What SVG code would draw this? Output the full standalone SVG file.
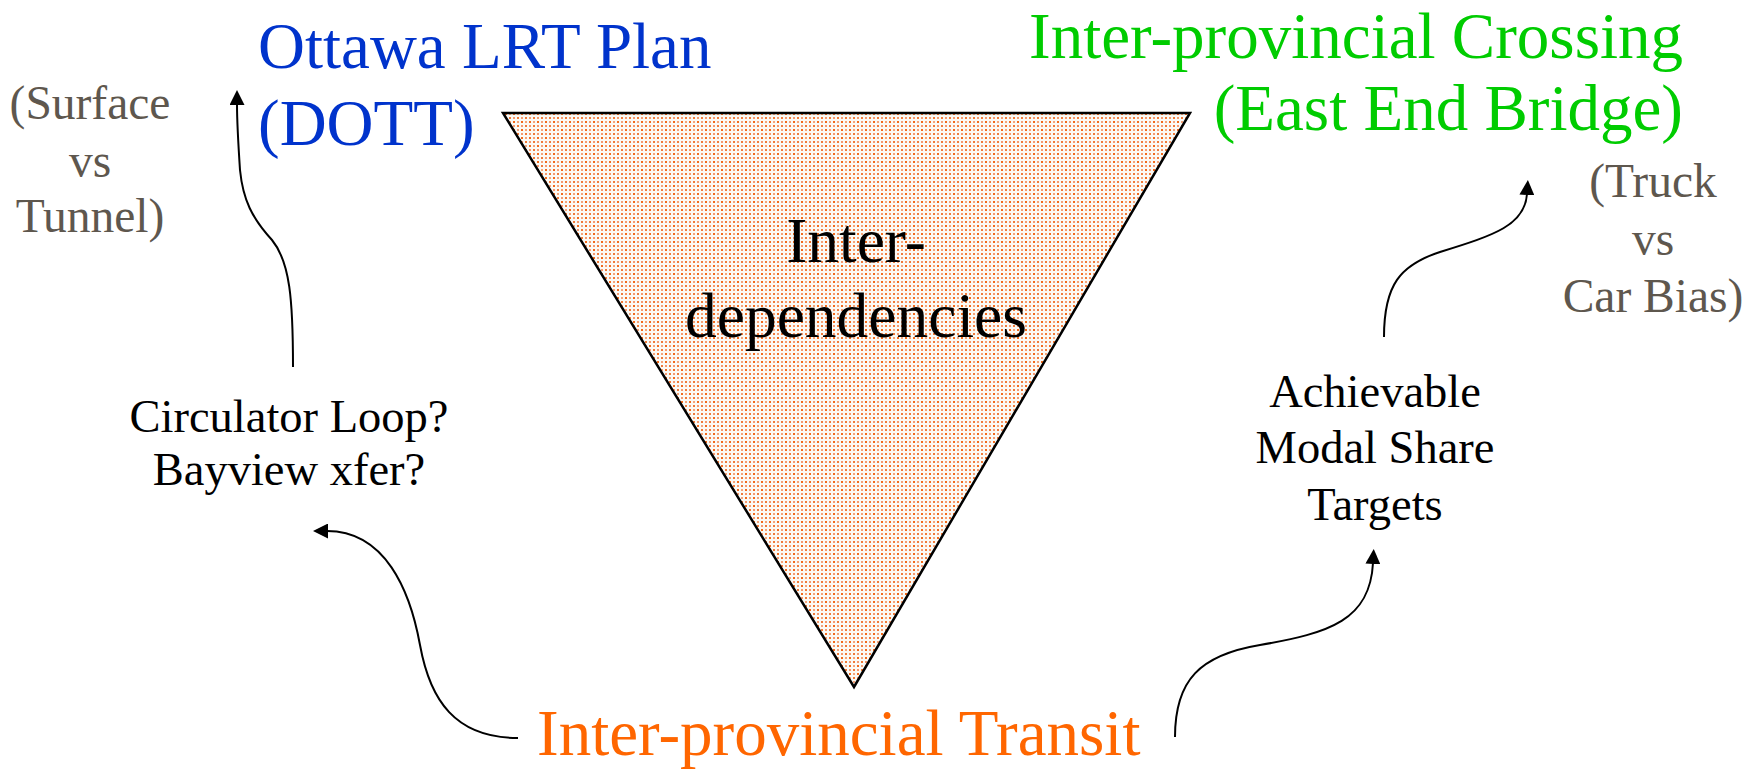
<svg xmlns="http://www.w3.org/2000/svg" width="1761" height="770" viewBox="0 0 1761 770" font-family="'Liberation Serif', 'Times New Roman', serif">
<style>
text{font-family:'Liberation Serif','Times New Roman',serif}
.title{font-size:65px}
.mid{font-size:46.5px;fill:#000;text-anchor:middle}
.note{font-size:47.5px;fill:#5e574e;text-anchor:middle}
.conn{fill:none;stroke:#000;stroke-width:2}
</style>
<defs>
<pattern id="dots" width="8" height="8" patternUnits="userSpaceOnUse">
<rect width="8" height="8" fill="#fcfaf5"/>
<rect x="1" y="1" width="2" height="2" fill="#f26a1b"/>
<rect x="5" y="1" width="2" height="2" fill="#f4a47a"/>
<rect x="1" y="5" width="2" height="2" fill="#f59a70"/>
<rect x="5" y="5" width="2" height="2" fill="#f07a38"/>
</pattern>
<marker id="ah" markerWidth="15" markerHeight="15" refX="1" refY="7.5" orient="auto" markerUnits="userSpaceOnUse" viewBox="0 0 15 15">
<path d="M0,0 L15,7.5 L0,15 z" fill="#000"/>
</marker>
</defs>
<rect width="1761" height="770" fill="#fff"/>
<g id="triangle">
<polygon points="503,113 1190,113 854,687" fill="url(#dots)" stroke="#000" stroke-width="2.5"/>
<text x="856" y="262" font-size="63.5" text-anchor="middle" fill="#000">Inter-</text>
<text x="856" y="337" font-size="63.5" text-anchor="middle" fill="#000">dependencies</text>
</g>
<g id="ottawa-lrt">
<text class="title" x="258" y="68" fill="#0033cc">Ottawa LRT Plan</text>
<text class="title" x="258" y="145" fill="#0033cc">(DOTT)</text>
</g>
<g id="crossing">
<text class="title" x="1683" y="58" fill="#00cc00" text-anchor="end">Inter-provincial Crossing</text>
<text class="title" x="1683" y="130" fill="#00cc00" text-anchor="end">(East End Bridge)</text>
</g>
<g id="transit">
<text class="title" x="537" y="755" fill="#ff6600">Inter-provincial Transit</text>
</g>
<g id="surface-note">
<text class="note" x="90" y="119">(Surface</text>
<text class="note" x="90" y="177">vs</text>
<text class="note" x="90" y="232">Tunnel)</text>
</g>
<g id="truck-note">
<text class="note" x="1653" y="197">(Truck</text>
<text class="note" x="1653" y="255">vs</text>
<text class="note" x="1653" y="312">Car Bias)</text>
</g>
<g id="circulator">
<text class="mid" x="289" y="432">Circulator Loop?</text>
<text class="mid" x="289" y="485">Bayview xfer?</text>
</g>
<g id="modal-share">
<text class="mid" x="1375" y="407">Achievable</text>
<text class="mid" x="1375" y="463">Modal Share</text>
<text class="mid" x="1375" y="520">Targets</text>
</g>
<g id="connectors">
<path class="conn" marker-end="url(#ah)" d="M293,367 C293,300 290,262 272,240 C252,218 243,200 240,170 C238,140 237,120 237,104"/>
<path class="conn" marker-end="url(#ah)" d="M518,738 C455,738 430,700 420,645 C410,590 385,531 327,531"/>
<path class="conn" marker-end="url(#ah)" d="M1175,737 C1175,680 1200,655 1260,645 C1330,633 1370,620 1373,563"/>
<path class="conn" marker-end="url(#ah)" d="M1384,337 C1384,285 1400,265 1440,252 C1495,235 1525,225 1527,194"/>
</g>
</svg>
